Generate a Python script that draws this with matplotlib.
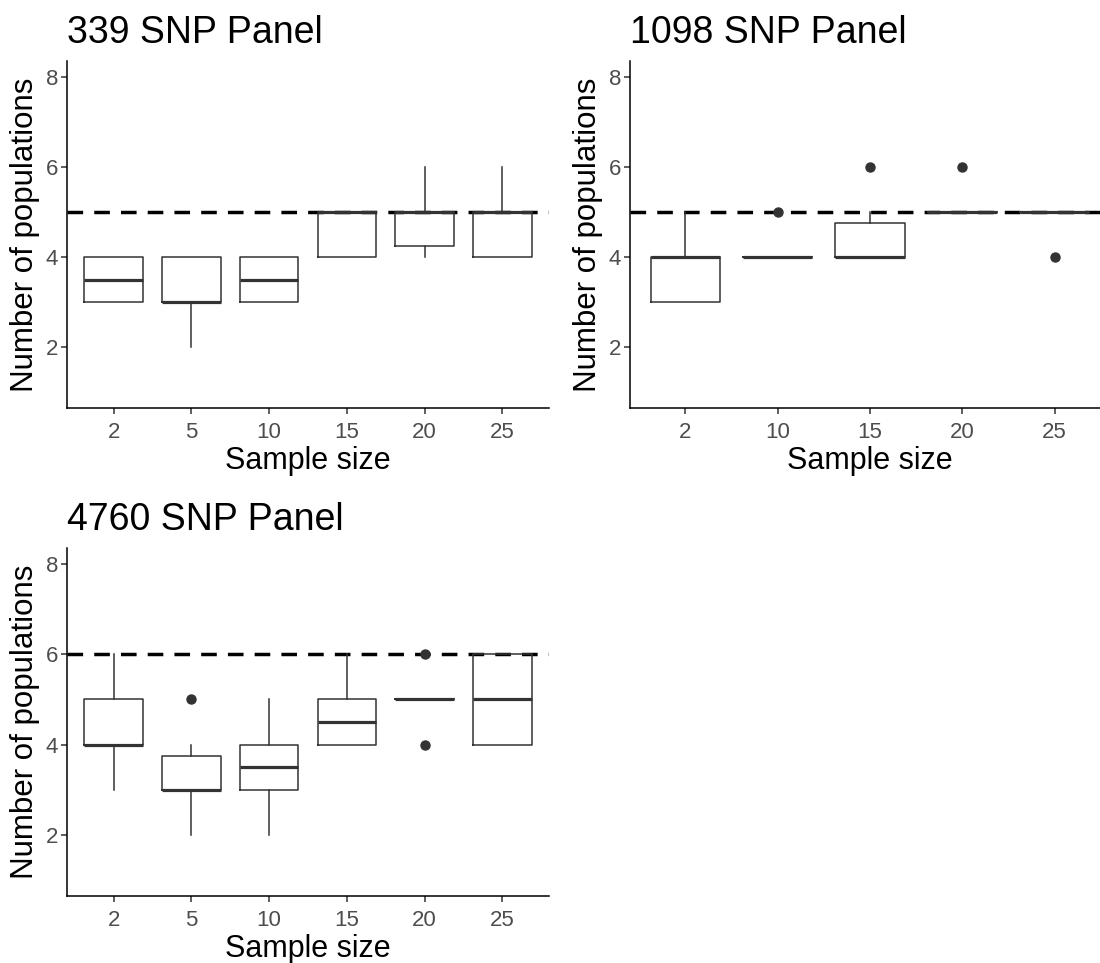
import matplotlib.pyplot as plt

plt.rcParams['font.family'] = ['Liberation Sans', 'DejaVu Sans']

# panel 1: 339 SNP
p1_title = "339 SNP Panel"
p1_cats = ["2", "5", "10", "15", "20", "25"]
p1_q1 = [3, 3, 3, 4, 4.25, 4]
p1_med = [3.5, 3, 3.5, 5, 5, 5]
p1_q3 = [4, 4, 4, 5, 5, 5]
p1_lo = [3, 2, 3, 4, 4, 4]
p1_hi = [4, 4, 4, 5, 6, 6]
p1_out = [[], [], [], [], [], []]
p1_ref = 5

# panel 2: 1098 SNP
p2_title = "1098 SNP Panel"
p2_cats = ["2", "10", "15", "20", "25"]
p2_q1 = [3, 4, 4, 5, 5]
p2_med = [4, 4, 4, 5, 5]
p2_q3 = [4, 4, 4.75, 5, 5]
p2_lo = [3, 4, 4, 5, 5]
p2_hi = [5, 4, 5, 5, 5]
p2_out = [[], [5], [6], [6], [4]]
p2_ref = 5

# panel 3: 4760 SNP
p3_title = "4760 SNP Panel"
p3_cats = ["2", "5", "10", "15", "20", "25"]
p3_q1 = [4, 3, 3, 4, 5, 4]
p3_med = [4, 3, 3.5, 4.5, 5, 5]
p3_q3 = [5, 3.75, 4, 5, 5, 6]
p3_lo = [3, 2, 2, 4, 5, 4]
p3_hi = [6, 4, 5, 6, 5, 6]
p3_out = [[], [5], [], [], [6, 4], []]
p3_ref = 6

W, H = 1100, 963
fig = plt.figure(figsize=(W / 100, H / 100), dpi=100)


def rect(left, right, top, bottom):
    return [left / W, 1 - bottom / H, (right - left) / W, (bottom - top) / H]


def panel(pos, title, cats, q1, med, q3, lo, hi, out, ref):
    ax = fig.add_axes(pos)
    stats = []
    for i in range(len(cats)):
        stats.append(dict(q1=q1[i], med=med[i], q3=q3[i], whislo=lo[i],
                          whishi=hi[i], fliers=out[i]))
    ax.axhline(ref, color='black', lw=2.5, dashes=(4.5, 3.2), zorder=1)
    ax.bxp(stats, positions=range(1, len(cats) + 1), widths=0.75,
           showcaps=False, patch_artist=False,
           boxprops=dict(color='#333333', lw=1.1),
           whiskerprops=dict(color='#333333', lw=1.1),
           medianprops=dict(color='#333333', lw=2.3),
           flierprops=dict(marker='o', markersize=6.5, markerfacecolor='#333333',
                           markeredgecolor='#333333'),
           zorder=2)
    ax.set_xlim(0.4, len(cats) + 0.6)
    ax.set_ylim(0.65, 8.35)
    ax.set_xticks(range(1, len(cats) + 1))
    ax.set_xticklabels(cats)
    ax.set_yticks([2, 4, 6, 8])
    for s in ['top', 'right']:
        ax.spines[s].set_visible(False)
    for s in ['left', 'bottom']:
        ax.spines[s].set_linewidth(1.1)
        ax.spines[s].set_color('black')
    ax.tick_params(labelsize=16, labelcolor='#4D4D4D', color='#333333',
                   length=4, width=1.1)
    ax.tick_params(axis='x', pad=6)
    ax.tick_params(axis='y', pad=2.5)
    ax.set_xlabel("Sample size", fontsize=22, labelpad=2.5)
    ax.set_ylabel("Number of populations", fontsize=22.5, labelpad=4)
    ax.set_title(title, loc='left', fontsize=27, pad=13)
    return ax


panel(rect(67, 549, 61, 408), p1_title, p1_cats, p1_q1, p1_med, p1_q3,
      p1_lo, p1_hi, p1_out, p1_ref)
panel(rect(630, 1110, 61, 408), p2_title, p2_cats, p2_q1, p2_med, p2_q3,
      p2_lo, p2_hi, p2_out, p2_ref)
panel(rect(67, 549, 548, 896), p3_title, p3_cats, p3_q1, p3_med, p3_q3,
      p3_lo, p3_hi, p3_out, p3_ref)

fig.savefig("out.png", dpi=100)
